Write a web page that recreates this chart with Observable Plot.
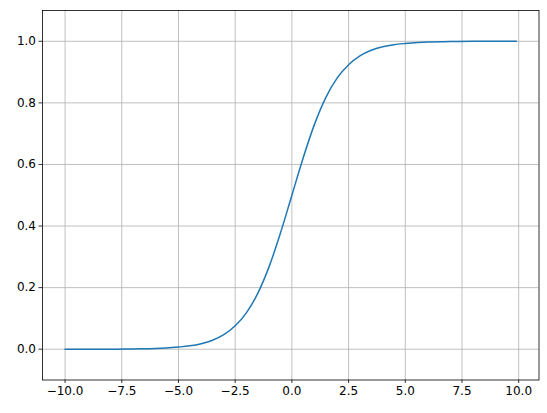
<!DOCTYPE html>
<html>
<head>
<meta charset="utf-8">
<script src="https://cdn.jsdelivr.net/npm/d3@7"></script>
<script src="https://cdn.jsdelivr.net/npm/@observablehq/plot@0.6"></script>
<style>
  html, body { margin: 0; padding: 0; background: #fff; }
  svg { display: block; }
</style>
</head>
<body>
<div id="chart"></div>
<script>
// values
const xs = [-10, -9, -8, -7, -6, -5, -4.5, -4, -3.5, -3, -2.5, -2, -1.5, -1, -0.5, 0, 0.5, 1, 1.5, 2, 2.5, 3, 3.5, 4, 4.5, 5, 6, 7, 8, 9, 9.9];
const ys = [0.000, 0.000, 0.000, 0.001, 0.002, 0.007, 0.011, 0.018, 0.029, 0.047, 0.076, 0.119, 0.182, 0.269, 0.378, 0.500, 0.622, 0.731, 0.818, 0.881, 0.924, 0.953, 0.971, 0.982, 0.989, 0.993, 0.998, 0.999, 1.000, 1.000, 1.000];
const xTicks = [-10, -7.5, -5, -2.5, 0, 2.5, 5, 7.5, 10];
const yTicks = [0, 0.2, 0.4, 0.6, 0.8, 1.0];

const data = xs.map((x, i) => ({x, y: ys[i]}));
const fmt = v => v.toFixed(1).replace("-", "\u2212");

const chart = Plot.plot({
  width: 547,
  height: 413,
  marginLeft: 42,
  marginRight: 8.5,
  marginTop: 10,
  marginBottom: 33.5,
  style: {fontFamily: "DejaVu Sans", fontSize: "12px", color: "#000", background: "#fff"},
  x: {domain: [-10.995, 10.895]},
  y: {domain: [-0.1, 1.1]},
  marks: [
    Plot.gridX(xTicks, {stroke: "#b0b0b0", strokeOpacity: 1, strokeWidth: 0.8}),
    Plot.gridY(yTicks, {stroke: "#b0b0b0", strokeOpacity: 1, strokeWidth: 0.8}),
    Plot.line(data, {x: "x", y: "y", stroke: "#1f77b4", strokeWidth: 1.5, curve: "monotone-x"}),
    Plot.frame({stroke: "#000", strokeWidth: 0.8}),
    Plot.axisX(xTicks, {tickSize: 3.5, tickPadding: 3, tickFormat: fmt, label: null, fontSize: 12, strokeWidth: 0.8}),
    Plot.axisY(yTicks, {tickSize: 3.5, tickPadding: 3, tickFormat: fmt, label: null, fontSize: 12, strokeWidth: 0.8})
  ]
});
document.getElementById("chart").appendChild(chart);
</script>
</body>
</html>
